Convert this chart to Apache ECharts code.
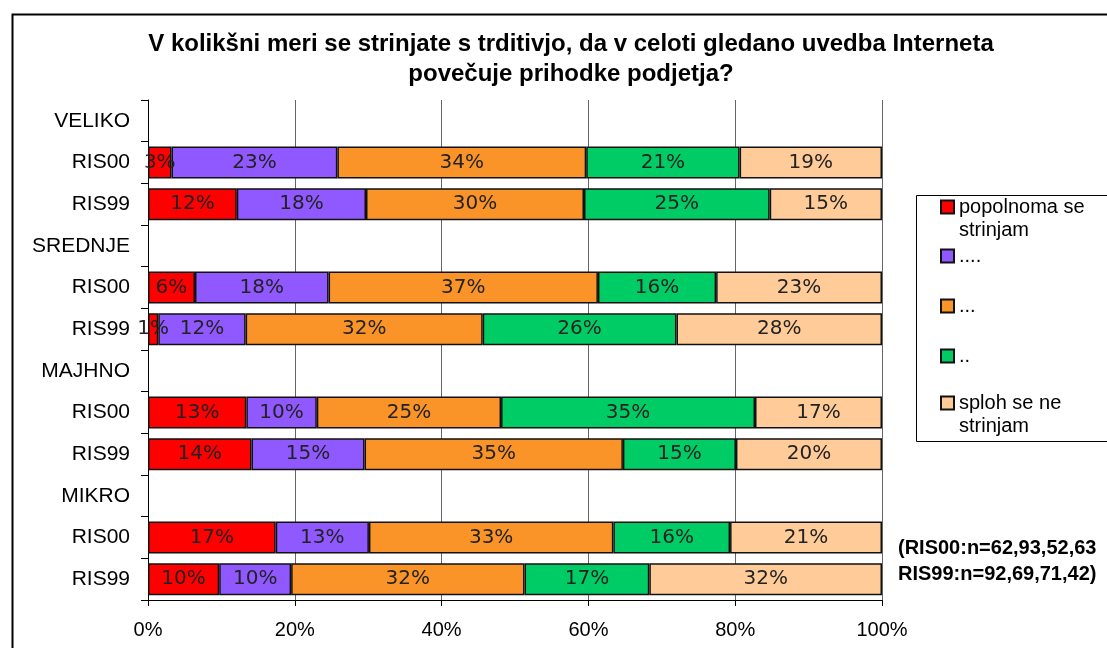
<!DOCTYPE html>
<html>
<head>
<meta charset="utf-8">
<script src="https://cdn.jsdelivr.net/npm/echarts@6/dist/echarts.min.js"></script>
<style>
  html, body { margin: 0; padding: 0; background: #fff; }
  #chart { width: 1107px; height: 648px; }
</style>
</head>
<body>
<div id="chart"></div>
<script>
// rows, top to bottom (group header rows carry no data)
const rows = ['VELIKO', 'RIS00', 'RIS99', 'SREDNJE', 'RIS00', 'RIS99', 'MAJHNO', 'RIS00', 'RIS99', 'MIKRO', 'RIS00', 'RIS99'];

const seriesNames = ['popolnoma se strinjam', '....', '...', '..', 'sploh se ne strinjam'];
const legendText = ['\npopolnoma se\nstrinjam', '....', '...', '..', '\nsploh se ne\nstrinjam'];
const colors = ['#ff0000', '#9059ff', '#fb9428', '#00cc66', '#ffcc99'];

// shares in %
const popolnoma = [null, 3.2, 12.1, null, 6.4, 1.4, null, 13.4, 14.1, null, 17.4, 9.7];
const dots4     = [null, 22.6, 17.6, null, 18.2, 11.9, null, 9.6, 15.4, null, 12.7, 9.8];
const dots3     = [null, 33.9, 29.7, null, 36.7, 32.3, null, 25.1, 35.2, null, 33.3, 31.8];
const dots2     = [null, 20.9, 25.3, null, 16.1, 26.4, null, 34.6, 15.4, null, 15.9, 17.0];
const sploh     = [null, 19.4, 15.3, null, 22.6, 28.0, null, 17.3, 19.9, null, 20.7, 31.7];

const values = [popolnoma, dots4, dots3, dots2, sploh];

const font = '"Liberation Sans", Arial, sans-serif';
const legendIconY = [207, 256, 306, 356, 403];

let chart = echarts.init(document.getElementById('chart'));

let option = {
    animation: false,
    color: colors,
    title: {
        text: 'V kolikšni meri se strinjate s trditivjo, da v celoti gledano uvedba Interneta\npovečuje prihodke podjetja?',
        left: 571,
        top: 29,
        padding: 0,
        textAlign: 'center',
        textStyle: {
            fontFamily: font,
            fontSize: 24,
            fontWeight: 'bold',
            color: '#000',
            lineHeight: 30
        }
    },
    legend: seriesNames.map((name, i) => ({
        data: [name],
        left: 940,
        top: legendIconY[i] - (legendText[i].indexOf('\n') === 0 ? 34.5 : 11.5),
        padding: 0,
        icon: 'rect',
        itemWidth: 13,
        itemHeight: 13,
        itemGap: 0,
        selectedMode: false,
        formatter: () => legendText[i],
        textStyle: {
            fontFamily: font,
            fontSize: 20,
            color: '#000',
            lineHeight: 23
        }
    })),
    grid: {
        left: 148,
        right: 225,
        top: 100,
        bottom: 48
    },
    xAxis: {
        type: 'value',
        min: 0,
        max: 100,
        interval: 20,
        axisLine: { show: true, lineStyle: { color: '#000', width: 1 } },
        axisTick: { show: true, length: 6, lineStyle: { color: '#000' } },
        axisLabel: {
            formatter: '{value}%',
            fontFamily: font,
            fontSize: 20,
            color: '#000',
            margin: 20
        },
        splitLine: { show: true, lineStyle: { color: '#666', width: 1 } }
    },
    yAxis: {
        type: 'category',
        inverse: true,
        data: rows,
        axisLine: { show: true, lineStyle: { color: '#000', width: 1 } },
        axisTick: { show: true, length: 7, interval: 0, lineStyle: { color: '#000' } },
        axisLabel: {
            fontFamily: font,
            fontSize: 21,
            color: '#000',
            margin: 18,
            interval: 0
        },
        splitLine: { show: false }
    },
    graphic: [
        {
            type: 'rect',
            left: 10,
            top: 12,
            shape: { width: 1120, height: 660 },
            style: { fill: 'none', stroke: '#000', lineWidth: 2 },
            silent: true
        },
        {
            type: 'rect',
            left: 914,
            top: 193,
            shape: { width: 220, height: 246 },
            style: { fill: 'none', stroke: '#000', lineWidth: 1 },
            silent: true
        },
        {
            type: 'text',
            left: 898,
            top: 535,
            style: {
                text: '(RIS00:n=62,93,52,63\nRIS99:n=92,69,71,42)',
                font: 'bold 20px ' + font,
                lineHeight: 26,
                fill: '#000'
            }
        }
    ],
    series: seriesNames.map((name, i) => ({
        name: name,
        type: 'bar',
        stack: 'total',
        barCategoryGap: '23%',
        data: values[i],
        itemStyle: {
            borderColor: '#111',
            borderWidth: 1.5
        },
        label: {
            show: true,
            position: 'inside',
            fontFamily: '"DejaVu Sans", sans-serif',
            fontSize: 20,
            color: '#222',
            formatter: p => (p.value == null ? '' : Math.round(p.value) + '%')
        }
    }))
};

chart.setOption(option);
</script>
</body>
</html>
